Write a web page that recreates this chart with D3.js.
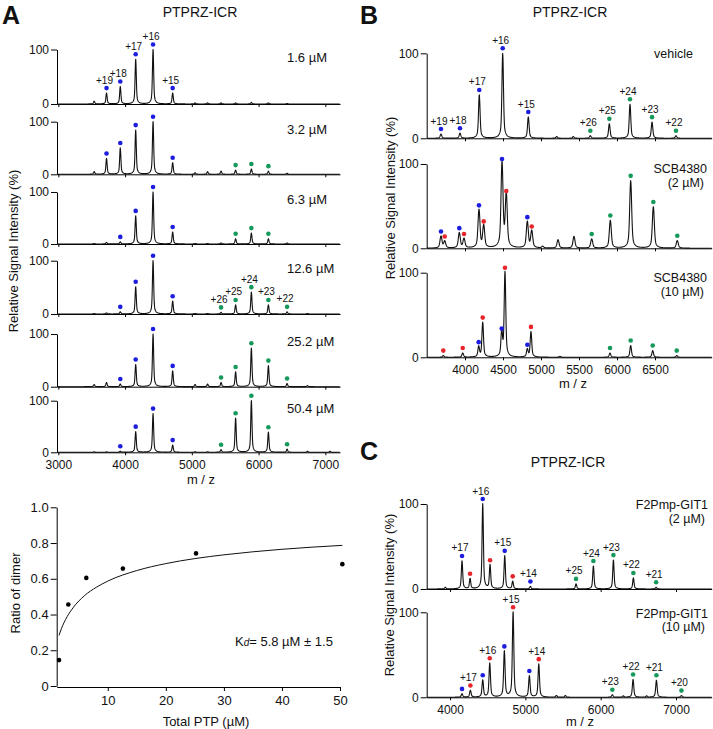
<!DOCTYPE html>
<html><head><meta charset="utf-8">
<script src="https://cdn.jsdelivr.net/npm/d3@7"></script>
<style>body{margin:0;background:#fff}</style>
</head><body>
<svg id="c" width="713" height="729"></svg>
<script>
// ================= DATA =================
const mzTicksA = [3000, 4000, 5000, 6000, 7000];
const mzTicksB = [4000, 4500, 5000, 5500, 6000, 6500];
const mzTicksC = [4000, 5000, 6000, 7000];

// Panel A: PTPRZ-ICR concentration series
const concA = ["1.6 µM", "3.2 µM", "6.3 µM", "12.6 µM", "25.2 µM", "50.4 µM"];
const monoChargeA = ["+20", "+19", "+18", "+17", "+16", "+15"];
const monoMzA = [3537, 3722, 3928, 4159, 4419, 4713];
const monoIntA = [
  [5, 20, 32, 82, 100, 20],
  [5, 30, 50, 84, 100, 22],
  [1, 3, 4, 54, 100, 23],
  [1, 2, 4, 51, 100, 24],
  [4, 8, 5, 42, 100, 30],
  [1, 1, 2, 40, 75, 14]
];
const monoMarkA = ["-bbbbb", "-bbbbb", "--bbbb", "--bbbb", "--bbbb", "--bbbb"];
const dimerChargeA = ["+28", "+27", "+26", "+25", "+24", "+23", "+22", "+21", "+20"];
const dimerMzA = [5049, 5236, 5438, 5656, 5892, 6147, 6427, 6733, 7070];
const dimerIntA = [
  [2, 2, 2, 2, 3, 2, 1, 0, 0],
  [3, 5, 6, 8, 10, 6, 2, 0, 0],
  [1, 1, 2, 10, 21, 10, 2, 0, 0],
  [1, 1, 3, 17, 41, 17, 4, 1, 0],
  [4, 5, 8, 28, 73, 40, 6, 2, 0],
  [1, 1, 5, 66, 100, 39, 6, 2, 2]
];
const dimerMarkA = ["---------", "---ggg---", "---ggg---", "--ggggg--", "--ggggg--", "--ggggg--"];
const monoLabelRowA = 0, dimerLabelRowA = 3;

// Panel A bottom: dimer ratio vs total PTP
const totalPTP = [1.6, 3.2, 6.3, 12.6, 25.2, 50.4];
const dimerRatio = [0.145, 0.456, 0.605, 0.657, 0.742, 0.682];
const fitX = [1.6, 2, 3, 4, 6, 8, 10, 15, 20, 25, 30, 40, 50.4];
const fitY = [0.283, 0.320, 0.388, 0.437, 0.506, 0.552, 0.587, 0.646, 0.685, 0.713, 0.734, 0.765, 0.787];
const ratioTicks = [0, 0.2, 0.4, 0.6, 0.8, 1.0];
const ptpTicks = [10, 20, 30, 40, 50];

// Panel B: vehicle / SCB4380
const condB = [["vehicle"], ["SCB4380", "(2 µM)"], ["SCB4380", "(10 µM)"]];
const vehMz  = [3684, 3934, 4188, 4496, 4833, 5207, 5425, 5649, 5899, 6171, 6461, 6776];
const vehInt = [5, 6, 51, 100, 25, 2, 2, 3, 17, 40, 19, 3];
const vehMark = "bbbbb--ggggg";
const vehLab = ["+19", "+18", "+17", "+16", "+15", "", "", "+26", "+25", "+24", "+23", "+22"];
const scb2Mz  = [3684, 3733, 3925, 3987, 4184, 4246, 4487, 4543, 4820, 4878, 5022, 5224, 5434, 5667, 5912, 6180, 6478, 6793];
const scb2Int = [14, 8, 18, 11, 45, 26, 100, 62, 31, 20, 2, 10, 14, 11, 33, 80, 49, 9];
const scb2Mark = "brbrbrbrbr---ggggg";
const scb10Mz  = [3714, 3970, 4180, 4233, 4483, 4526, 4820, 4868, 5250, 5908, 6180, 6470, 6786];
const scb10Int = [2, 5, 12, 41, 28, 100, 9, 30, 1, 5, 14, 8, 2];
const scb10Mark = "rrbrbrbr-gggg";

// Panel C: F2Pmp-GIT1
const condC = [["F2Pmp-GIT1", "(2 µM)"], ["F2Pmp-GIT1", "(10 µM)"]];
const git2Mz  = [3938, 4159, 4266, 4434, 4531, 4726, 4832, 5067, 5673, 5903, 6169, 6434, 6736];
const git2Int = [2, 33, 12, 100, 28, 39, 9, 3, 6, 27, 34, 13, 2];
const git2Mark = "-brbrbrbggggg";
const git2Lab = ["", "+17", "", "+16", "", "+15", "", "+14", "+25", "+24", "+23", "+22", "+21"];
const git10Mz  = [4159, 4270, 4434, 4527, 4721, 4837, 5053, 5178, 5412, 5531, 6155, 6300, 6430, 6610, 6740, 7072];
const git10Int = [4, 8, 20, 40, 54, 100, 25, 39, 2, 2, 3, 1.5, 21, 1.5, 20, 2];
const git10Mark = "brbrbrbr--g-g-gg";
const git10Lab = ["", "+17", "", "+16", "", "+15", "", "+14", "", "", "+23", "", "+22", "", "+21", "+20"];

// ================= DRAWING =================
const FONT = '"Liberation Sans", Arial, Helvetica, sans-serif';
const COL = { b: "#1d1de0", g: "#159a5c", r: "#e6262b" };
const svg = d3.select("#c").attr("font-family", FONT);

function styleAxis(g, fs) {
  g.attr("font-family", FONT).attr("font-size", fs || 12);
  g.select(".domain").attr("stroke", "#000").attr("stroke-width", 1);
  g.selectAll(".tick line").attr("stroke", "#000").attr("stroke-width", 1);
  g.selectAll(".tick text").attr("fill", "#111");
}

function shape(d, core, tail) {
  return 0.72 * Math.exp(-0.5 * (d / core) * (d / core)) + 0.28 / (1 + (d / tail) * (d / tail));
}

function drawSpectrum(x, top, base, mz, inten, mark, lab, ticks, showLabels, core, tail) {
  const y = d3.scaleLinear([0, 100], [base, top]);
  const [x0, x1] = x.range();
  const centers = mz.map(m => x(m));
  const xs = d3.range(x0, x1, 0.25).concat(centers.filter(c => c >= x0 && c <= x1)).sort((a, b) => a - b);
  const pts = xs.map(px => [px, y(d3.sum(centers, (c, i) => inten[i] * shape(px - c, core, tail)))]);

  const gx = svg.append("g").attr("transform", `translate(0,${base})`)
    .call(d3.axisBottom(x).tickValues(ticks).tickSize(3).tickPadding(5).tickSizeOuter(0)
      .tickFormat(showLabels ? d3.format("d") : () => ""));
  styleAxis(gx);
  const gy = svg.append("g").attr("transform", `translate(${x0},0)`)
    .call(d3.axisLeft(y).tickValues([0, 100]).tickSize(6).tickPadding(2).tickSizeOuter(0));
  styleAxis(gy);

  svg.append("path").attr("d", d3.line()(pts)).attr("fill", "none")
    .attr("stroke", "#111").attr("stroke-width", 1.1).attr("stroke-linejoin", "round");

  mz.forEach((m, i) => {
    const k = mark[i];
    const cx = x(m), cy = y(inten[i]) - 5;
    if (k && k !== "-") {
      svg.append("circle").attr("cx", cx).attr("cy", cy).attr("r", 2.3).attr("fill", COL[k]);
    }
    if (lab && lab[i]) {
      svg.append("text").attr("x", cx - 2).attr("y", cy - 8).attr("dy", "0.35em")
        .attr("text-anchor", "middle").attr("font-size", 10).attr("fill", "#111").text(lab[i]);
    }
  });
}

function text(x, y, s, opts) {
  const o = opts || {};
  const t = svg.append("text").attr("x", x).attr("y", y).attr("dy", o.dy === undefined ? "0.35em" : o.dy)
    .attr("font-size", o.fs || 13).attr("fill", "#111")
    .attr("text-anchor", o.anchor || "start");
  if (o.bold) t.attr("font-weight", "bold");
  if (o.rot) t.attr("transform", `rotate(-90,${x},${y})`);
  t.text(s);
  return t;
}

// ---- Panel letters and titles
text(2, 23.5, "A", { fs: 25, bold: true, dy: 0 });
text(360, 23.5, "B", { fs: 25, bold: true, dy: 0 });
text(360, 460, "C", { fs: 25, bold: true, dy: 0 });
text(200, 12, "PTPRZ-ICR", { fs: 14, anchor: "middle" });
text(570, 12, "PTPRZ-ICR", { fs: 14, anchor: "middle" });
text(568, 462, "PTPRZ-ICR", { fs: 14, anchor: "middle" });

// ---- Panel A spectra
const xA = d3.scaleLinear([2980, 7220], [57, 340]);
const aTop = [49.5, 121.7, 192, 260.7, 334, 400.7];
const aBase = [104, 174.3, 244, 314, 386.7, 452.3];
concA.forEach((c, r) => {
  const mz = monoMzA.concat(dimerMzA);
  const inten = monoIntA[r].concat(dimerIntA[r]);
  const mark = monoMarkA[r] + dimerMarkA[r];
  const lab = (r === monoLabelRowA ? monoChargeA.map((s, i) => monoMarkA[r][i] !== "-" ? s : "") : monoChargeA.map(() => ""))
    .concat(r === dimerLabelRowA ? dimerChargeA.map((s, i) => dimerMarkA[r][i] !== "-" ? s : "") : dimerChargeA.map(() => ""));
  drawSpectrum(xA, aTop[r], aBase[r], mz, inten, mark, lab, mzTicksA, r === concA.length - 1, 0.55, 1.3);
  text(287, aTop[r] + 7.5, c, { fs: 13 });
});
text(201, 479, "m / z", { fs: 13, anchor: "middle" });
text(13.5, 251, "Relative Signal Intensity (%)", { fs: 13, anchor: "middle", rot: true });

// ---- Panel A bottom: binding curve
const xR = d3.scaleLinear([1.2, 50], [56.7, 340]);
const yR = d3.scaleLinear([0, 1], [686, 507.3]);
const gxr = svg.append("g").attr("transform", "translate(0,687)")
  .call(d3.axisBottom(xR).tickValues(ptpTicks).tickSize(4).tickPadding(5).tickSizeOuter(0).tickFormat(d3.format("d")));
styleAxis(gxr, 13);
const gyr = svg.append("g").attr("transform", "translate(56.7,0)")
  .call(d3.axisLeft(yR).tickValues(ratioTicks).tickSize(6).tickPadding(2).tickSizeOuter(0)
    .tickFormat(d => d === 0 ? "0" : d3.format(".1f")(d)));
styleAxis(gyr, 13);
svg.append("path").attr("d", d3.line().x(d => xR(d[0])).y(d => yR(d[1])).curve(d3.curveMonotoneX)(fitX.map((v, i) => [v, fitY[i]])))
  .attr("fill", "none").attr("stroke", "#111").attr("stroke-width", 1);
totalPTP.forEach((v, i) => {
  svg.append("circle").attr("cx", xR(v)).attr("cy", yR(dimerRatio[i])).attr("r", 2.3).attr("fill", "#000");
});
text(206, 721, "Total PTP (µM)", { fs: 13, anchor: "middle" });
text(15, 593, "Ratio of dimer", { fs: 13, anchor: "middle", rot: true });
const kd = svg.append("text").attr("x", 235).attr("y", 646).attr("font-size", 13).attr("fill", "#111");
kd.append("tspan").text("K");
kd.append("tspan").attr("font-size", 10).attr("font-style", "italic").text("d");
kd.append("tspan").text("= 5.8 µM ± 1.5");

// ---- Panel B
const xB = d3.scaleLinear([3496, 7246], [426.7, 711.7]);
const bTop = [53.3, 164, 272.7], bBase = [138.3, 248.3, 357.3];
drawSpectrum(xB, bTop[0], bBase[0], vehMz, vehInt, vehMark, vehLab, mzTicksB, false, 0.7, 1.6);
drawSpectrum(xB, bTop[1], bBase[1], scb2Mz, scb2Int, scb2Mark, null, mzTicksB, false, 0.9, 2.0);
drawSpectrum(xB, bTop[2], bBase[2], scb10Mz, scb10Int, scb10Mark, null, mzTicksB, true, 0.7, 1.6);
condB.forEach((lines, i) => {
  lines.forEach((s, j) => text(i === 0 ? 693 : 707 - (j ? 3 : 0), bTop[i] + (i === 0 ? 0 : 4.5) + j * 14, s, { fs: 12.5, anchor: "end" }));
});
text(573, 383, "m / z", { fs: 13, anchor: "middle" });
text(390, 198, "Relative Signal Intensity (%)", { fs: 13, anchor: "middle", rot: true });

// ---- Panel C
const xC = d3.scaleLinear([3690, 7474], [426.7, 711.7]);
const cTop = [504, 612.3], cBase = [589, 697.3];
drawSpectrum(xC, cTop[0], cBase[0], git2Mz, git2Int, git2Mark, git2Lab, mzTicksC, false, 0.6, 1.4);
drawSpectrum(xC, cTop[1], cBase[1], git10Mz, git10Int, git10Mark, git10Lab, mzTicksC, true, 0.65, 1.5);
condC.forEach((lines, i) => {
  lines.forEach((s, j) => text(708 - (j ? 3 : 0), cTop[i] + 1 + j * 13.6, s, { fs: 12.5, anchor: "end" }));
});
text(580, 721, "m / z", { fs: 13, anchor: "middle" });
text(389, 595, "Relative Signal Intensity (%)", { fs: 13, anchor: "middle", rot: true });
</script>
</body></html>
